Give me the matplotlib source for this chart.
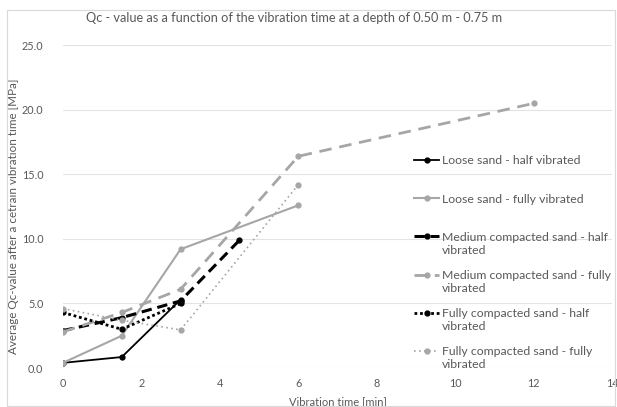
import matplotlib
matplotlib.use("Agg")
import matplotlib.pyplot as plt
from matplotlib.patches import Rectangle
from matplotlib.legend_handler import HandlerLine2D

plt.rcParams['font.family'] = ['Lato', 'DejaVu Sans']

title = "Qc - value as a function of the vibration time at a depth of 0.50 m - 0.75 m"
xlabel = "Vibration time [min]"
ylabel = "Average Qc-value after a cetrain vibration time [MPa]"

loose_half_x = [0, 1.5, 3]
loose_half_y = [0.4, 0.85, 5.3]
loose_full_x = [0, 1.5, 3, 6]
loose_full_y = [0.4, 2.5, 9.2, 12.6]
medium_half_x = [0, 1.5, 3, 4.5]
medium_half_y = [2.9, 3.9, 5.2, 9.9]
medium_full_x = [0, 1.5, 3, 6, 12]
medium_full_y = [2.8, 4.3, 6.1, 16.4, 20.5]
fully_half_x = [0, 1.5, 3]
fully_half_y = [4.3, 3.0, 5.0]
fully_full_x = [0, 1.5, 3, 6]
fully_full_y = [4.6, 3.7, 2.95, 14.2]

labels = ["Loose sand - half vibrated\n",
          "Loose sand - fully vibrated\n",
          "Medium compacted sand - half\nvibrated",
          "Medium compacted sand - fully\nvibrated",
          "Fully compacted sand - half\nvibrated",
          "Fully compacted sand - fully\nvibrated"]

LEG_FS = 8.8


class TopHandler(HandlerLine2D):
    def create_artists(self, legend, orig_handle, xdescent, ydescent,
                       width, height, fontsize, trans):
        arts = super().create_artists(legend, orig_handle, xdescent, ydescent,
                                      width, height, fontsize, trans)
        dy = 0.62 * fontsize
        for a in arts:
            a.set_ydata([y + dy for y in a.get_ydata()])
        return arts


fig = plt.figure(figsize=(6.17, 4.07), dpi=100)
ax = fig.add_axes([0.102, 0.0958, 0.890, 0.793])

black = "#000000"
gray = "#A6A6A6"
ms = 3.5
ax.plot(loose_half_x, loose_half_y, color=black, lw=1.3, marker='o', ms=ms, label=labels[0])
ax.plot(loose_full_x, loose_full_y, color=gray, lw=1.5, marker='o', ms=ms, label=labels[1])
ax.plot(medium_half_x, medium_half_y, color=black, lw=2.2, ls=(0, (3.4, 1.9)), marker='o', ms=ms, label=labels[2])
ax.plot(medium_full_x, medium_full_y, color=gray, lw=2.0, ls=(0, (4.5, 2.8)), marker='o', ms=ms, label=labels[3])
ax.plot(fully_half_x, fully_half_y, color=black, lw=2.0, ls=(0, (1, 1)), marker='o', ms=ms, label=labels[4])
ax.plot(fully_full_x, fully_full_y, color=gray, lw=1.2, ls=(0, (1, 2)), marker='o', ms=ms, label=labels[5])

ax.set_xlim(0, 14)
ax.set_ylim(0, 25)
ax.set_xticks(range(0, 15, 2))
ax.set_yticks([0, 5, 10, 15, 20, 25])
ax.set_yticklabels([f"{v:.1f}" for v in [0, 5, 10, 15, 20, 25]])
ax.grid(axis='y', color="#E3E3E3", lw=0.8)
ax.set_axisbelow(True)
for s in ax.spines.values():
    s.set_visible(False)
ax.tick_params(axis='y', length=0, labelsize=7.8, colors="#595959", pad=14)
ax.tick_params(axis='x', length=0, labelsize=7.8, colors="#595959", pad=7)
ax.set_xlabel(xlabel, fontsize=8, color="#595959", labelpad=5)
ax.set_ylabel(ylabel, fontsize=8.4, color="#595959")
ax.yaxis.set_label_coords(-0.08, 0.47)
ax.set_title(title, fontsize=9.2, color="#595959", pad=17, x=0.42)

leg = ax.legend(loc='upper left', bbox_to_anchor=(0.62, 0.693), frameon=False,
                fontsize=LEG_FS, labelcolor="#595959", handlelength=2.0,
                handletextpad=0.25, labelspacing=1.18,
                handler_map={plt.Line2D: TopHandler()})

fig.patches.append(Rectangle((0.011, 0.003), 0.985, 0.972, transform=fig.transFigure,
                             fill=False, edgecolor="#D9D9D9", lw=0.8))
fig.savefig("out.png", dpi=100)
